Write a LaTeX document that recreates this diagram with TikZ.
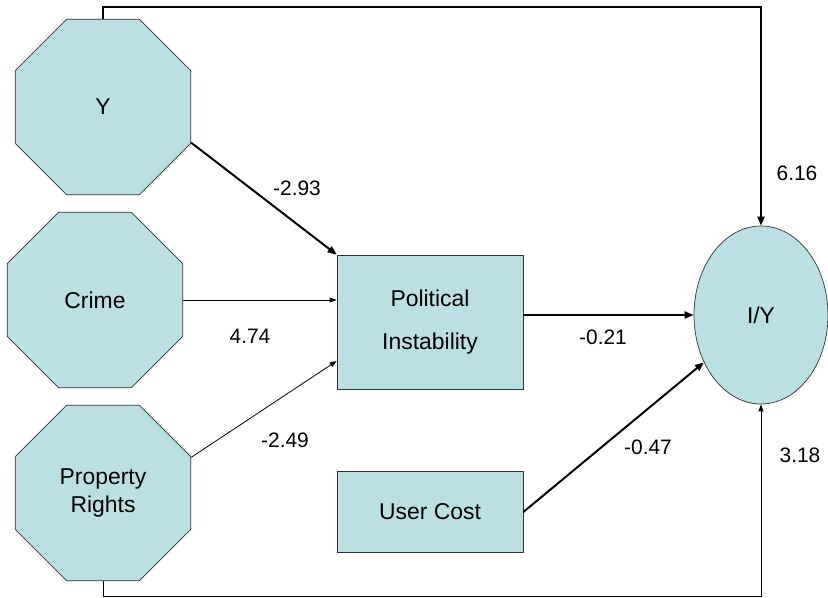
\documentclass[tikz,border=0pt]{standalone}
\usepackage{fontspec}
\setmainfont{Liberation Sans}
\usetikzlibrary{shapes.geometric,arrows.meta,calc}
\definecolor{boxfill}{RGB}{187,224,227}
\begin{document}
\begin{tikzpicture}[x=1bp,y=-1bp,
  octa/.style={regular polygon,regular polygon sides=8,minimum size=190bp,inner sep=0pt,
    draw=black!80,fill=boxfill,line width=0.7bp,font=\fontsize{23}{29}\selectfont,align=center},
  rbox/.style={rectangle,draw=black!80,fill=boxfill,line width=0.7bp,inner sep=0pt,
    font=\fontsize{23}{43}\selectfont,align=center},
  ell/.style={ellipse,draw=black!80,fill=boxfill,line width=0.7bp,inner sep=0pt,
    minimum width=134bp,minimum height=178bp,font=\fontsize{23}{29}\selectfont},
  thinarrow/.style={line width=0.8bp,-{Triangle[length=7bp,width=5bp]}},
  thickarrow/.style={line width=2bp,-{Triangle[length=9bp,width=7bp]}},
  lab/.style={font=\fontsize{21}{25}\selectfont,inner sep=0pt}]
\useasboundingbox (0,0) rectangle (828,598);
\fill[white] (0,0) rectangle (828,598);

\node[octa] (Y) at (103,107) {Y};
\node[octa] (Crime) at (95,300) {Crime};
\node[octa] (PR) at (103,493) {Property\\Rights};
\node[rbox,minimum width=186bp,minimum height=134bp] (PI) at (430,322) {Political\\Instability};
\node[rbox,minimum width=186bp,minimum height=81bp] (UC) at (430,512) {User Cost};
\node[ell] (IY) at (761,315) {I/Y};

\coordinate (top) at (0,7);
\coordinate (bot) at (0,596);

\draw[thickarrow] (Y.north) -- (Y.north |- top) -| (IY.north);
\draw[thickarrow] (Y.-22.5) -- (PI.north west);
\draw[thinarrow] (Crime.east) -- (Crime.east -| PI.west);
\draw[thinarrow] (PR.22.5) -- ([yshift=-39bp]PI.west);
\draw[thickarrow] (IY.west -| PI.east) -- (IY.west);
\draw[thickarrow] (UC.east) -- (IY);
\draw[thinarrow] (PR.south) -- (PR.south |- bot) -| (IY.south);

\node[lab] (l1) at (297,188) {-2.93};
\node[lab] (l2) at (250,336) {4.74};
\node[lab] (l3) at (285,440) {-2.49};
\node[lab] (l4) at (603,337) {-0.21};
\node[lab] (l5) at (648,447) {-0.47};
\node[lab] (l6) at (797,173) {6.16};
\node[lab] (l7) at (800,455) {3.18};
\end{tikzpicture}
\end{document}
